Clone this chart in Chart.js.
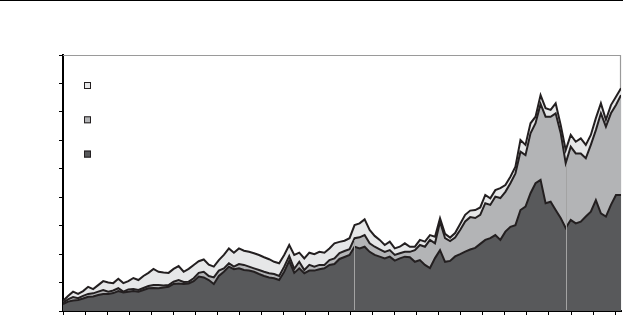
<!DOCTYPE html>
<html>
<head>
<meta charset="utf-8">
<script src="https://cdn.jsdelivr.net/npm/chart.js@4/dist/chart.umd.min.js"></script>
<style>
    html, body { margin: 0; padding: 0; background: #fff; }
    #wrap { position: relative; width: 623px; height: 316px; }
    #rule { position: absolute; left: 0; top: 0; width: 623px; height: 1px; background: #000; }
    canvas { position: absolute; left: 0; top: 0; }
</style>
</head>
<body>
<div id="wrap">
    <canvas id="stackChart" width="623" height="316"></canvas>
    <div id="rule"></div>
</div>
<script>
// Níveis (escala 0–90), uma amostra a cada ~0,23 unidade do eixo x
const bottomLevel = [
    2.4, 3.3, 3.7, 3.9, 4.4, 5.0, 5.1, 5.6, 6.0, 6.0, 6.3, 7.0, 6.5, 6.8, 7.0, 6.8,
    7.4, 8.0, 8.1, 8.0, 8.3, 8.5, 9.5, 9.7, 9.5, 9.7, 10.5, 12.1, 11.8, 10.9, 9.5, 12.3,
    13.8, 15.6, 14.7, 15.0, 14.4, 14.2, 13.8, 13.0, 12.3, 11.8, 11.5, 10.9, 13.8, 17.6,
    13.4, 15.0, 13.3, 14.2, 14.2, 14.7, 15.0, 16.2, 16.5, 18.3, 19.0, 19.7, 22.6, 22.0,
    22.6, 20.8, 19.7, 19.1, 18.5, 19.1, 17.7, 18.5, 19.1, 18.9, 17.3, 17.9, 16.2, 15.1,
    18.6, 21.4, 17.3, 17.6, 19.2, 20.0, 20.9, 21.6, 22.2, 23.6, 25.0, 25.6, 26.7, 25.0,
    27.9, 29.6, 30.2, 35.5, 36.7, 41.4, 44.9, 46.1, 37.9, 38.4, 35.5, 32.7, 29.2, 32.0,
    30.8, 31.4, 33.2, 34.9, 39.0, 34.3, 33.2, 37.3, 40.8, 40.8
];
const middleLevel = [
    2.9, 4.1, 4.9, 4.5, 5.3, 6.0, 6.2, 6.8, 7.4, 6.8, 7.2, 8.0, 6.8, 7.6, 7.7, 7.4,
    8.1, 8.8, 9.1, 9.1, 9.0, 9.1, 10.3, 10.9, 10.2, 10.3, 11.5, 13.4, 13.8, 12.3, 11.8, 14.2,
    15.0, 16.8, 15.6, 16.5, 16.2, 15.6, 15.0, 14.4, 13.8, 13.3, 13.0, 12.3, 15.6, 19.3,
    14.8, 17.3, 14.4, 16.2, 15.6, 16.2, 16.2, 17.9, 18.5, 20.4, 21.1, 21.7, 25.6, 25.9,
    26.7, 23.8, 22.6, 21.7, 20.8, 21.4, 19.7, 20.3, 20.8, 20.8, 21.4, 23.2, 22.6, 25.0,
    23.8, 31.4, 25.6, 24.6, 25.8, 28.5, 31.5, 33.0, 32.7, 33.8, 37.9, 37.3, 40.2, 39.7,
    41.9, 44.9, 48.4, 56.0, 54.8, 62.5, 66.0, 72.8, 68.3, 68.3, 69.5, 62.6, 52.0, 57.8,
    55.4, 55.4, 53.7, 58.4, 63.6, 69.5, 64.8, 69.5, 72.4, 75.9
];
const topLevel = [
    3.5, 5.3, 6.8, 6.0, 7.0, 8.5, 7.7, 9.1, 10.5, 10.0, 9.8, 11.3, 9.8, 10.5, 11.6, 10.9,
    12.3, 13.4, 14.8, 13.8, 13.5, 13.4, 14.8, 15.8, 13.8, 14.8, 16.2, 17.5, 18.1, 16.3, 15.6, 17.9,
    19.7, 22.0, 20.5, 22.0, 21.2, 20.8, 20.3, 19.7, 18.9, 18.2, 17.3, 16.8, 19.7, 23.2,
    19.7, 20.5, 18.5, 20.5, 20.0, 20.8, 20.5, 22.0, 23.8, 24.3, 24.7, 25.6, 30.2, 30.8,
    32.2, 28.5, 26.4, 25.0, 23.2, 24.4, 22.0, 22.6, 23.8, 22.6, 22.6, 25.0, 24.4, 26.7,
    26.1, 32.6, 27.1, 25.8, 27.4, 30.6, 33.8, 35.3, 35.5, 36.4, 40.8, 39.6, 42.5, 43.2,
    44.3, 47.2, 50.7, 60.1, 58.4, 66.0, 68.3, 75.9, 71.3, 70.7, 73.0, 65.4, 56.6, 61.9,
    59.5, 60.7, 58.4, 61.9, 67.8, 73.0, 67.2, 72.4, 75.3, 78.3
];

// Eixo x: 26 marcas (0..25), os dados vão até 25,26
const xMax = 25.26;
const xStepPerSample = xMax / (topLevel.length - 1);
const eventMarks = [13.18, 22.76];

const seriesColors = ['#e6e7e8', '#b3b4b6', '#58595b']; // claro, médio, escuro (ordem da legenda)
const lineColor = '#231f20';

function toPoints(levels) {
    return levels.map((y, i) => ({ x: i * xStepPerSample, y: y }));
}

// Moldura cinza (topo e direita) atrás das áreas
const framePlugin = {
    id: 'frame',
    beforeDatasetsDraw(chart) {
        const { ctx, chartArea: a } = chart;
        ctx.save();
        ctx.strokeStyle = '#9a9a9a';
        ctx.lineWidth = 1.2;
        ctx.beginPath();
        ctx.moveTo(a.left, a.top + 0.5);
        ctx.lineTo(a.right - 0.5, a.top + 0.5);
        ctx.lineTo(a.right - 0.5, a.bottom);
        ctx.stroke();
        ctx.restore();
    }
};

// Linhas verticais claras em datas marcantes
const eventPlugin = {
    id: 'events',
    afterDatasetsDraw(chart) {
        const { ctx, scales } = chart;
        ctx.save();
        ctx.strokeStyle = '#a3a3a3';
        ctx.lineWidth = 1;
        eventMarks.forEach(m => {
            const idx = Math.round(m / xStepPerSample);
            const px = Math.round(scales.x.getPixelForValue(m)) + 0.5;
            ctx.beginPath();
            ctx.moveTo(px, scales.y.getPixelForValue(0) - 1);
            ctx.lineTo(px, scales.y.getPixelForValue(middleLevel[idx]) + 2);
            ctx.stroke();
        });
        ctx.restore();
    }
};

// Legenda só com os quadrados (sem texto na figura)
const boxLegendPlugin = {
    id: 'boxLegend',
    afterDraw(chart) {
        const { ctx, chartArea: a } = chart;
        ctx.save();
        seriesColors.forEach((c, k) => {
            const x = a.left + 21;
            const y = a.top + 27 + k * 34.3;
            ctx.fillStyle = c;
            ctx.fillRect(x, y, 7, 7);
            ctx.strokeStyle = lineColor;
            ctx.lineWidth = 1;
            ctx.strokeRect(x + 0.5, y + 0.5, 6, 6);
        });
        ctx.restore();
    }
};

function renderChart() {
    const ctx = document.getElementById('stackChart').getContext('2d');
    const ds = (label, levels, color, fill) => ({
        label: label,
        data: toPoints(levels),
        backgroundColor: color,
        borderColor: lineColor,
        borderWidth: 2,
        borderJoinStyle: 'miter',
        pointRadius: 0,
        tension: 0,
        fill: fill
    });

    new Chart(ctx, {
        type: 'line',
        data: {
            datasets: [
                ds('bottom', bottomLevel, seriesColors[2], 'origin'),
                ds('middle', middleLevel, seriesColors[1], '-1'),
                ds('top', topLevel, seriesColors[0], '-1')
            ]
        },
        options: {
            responsive: false,
            animation: false,
            layout: { padding: { left: 59, right: 2, top: 55, bottom: 1 } },
            plugins: { legend: { display: false }, tooltip: { enabled: false } },
            scales: {
                x: {
                    type: 'linear',
                    min: 0,
                    max: xMax,
                    ticks: { display: false, stepSize: 1, includeBounds: false },
                    grid: { drawOnChartArea: false, drawTicks: true, tickLength: 4, color: '#000', lineWidth: 1 },
                    border: { display: true, color: '#000', width: 2 }
                },
                y: {
                    min: 0,
                    max: 90,
                    ticks: { display: false, stepSize: 10 },
                    grid: { drawOnChartArea: false, drawTicks: true, tickLength: 4, color: '#000', lineWidth: 1 },
                    border: { display: true, color: '#000', width: 2 }
                }
            }
        },
        plugins: [framePlugin, eventPlugin, boxLegendPlugin]
    });
}

renderChart();
</script>
</body>
</html>
